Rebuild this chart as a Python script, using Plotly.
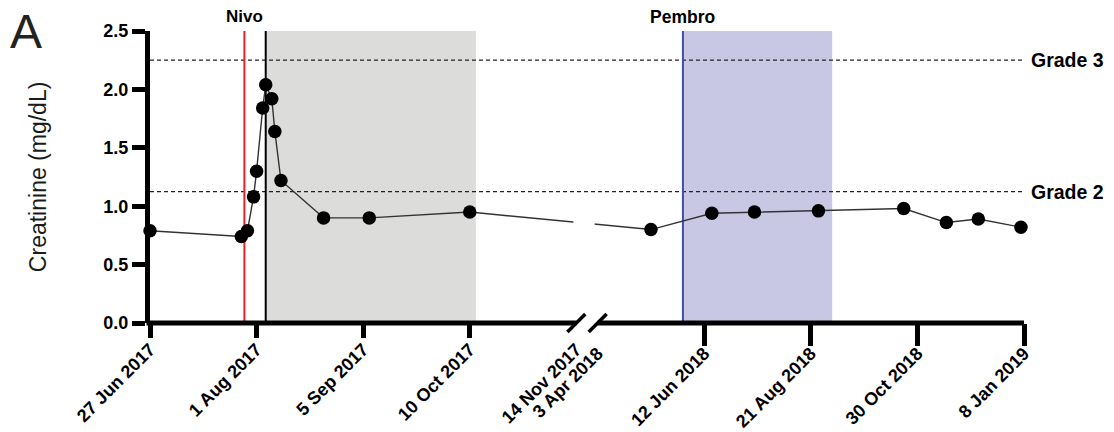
import plotly.graph_objects as go
from datetime import date

# ---------------- data ----------------
dates_2017 = ["2017-06-27", "2017-07-27", "2017-07-29", "2017-07-31", "2017-08-01",
              "2017-08-03", "2017-08-04", "2017-08-06", "2017-08-07", "2017-08-09",
              "2017-08-23", "2017-09-07", "2017-10-10"]
creat_2017 = [0.79, 0.74, 0.79, 1.08, 1.30, 1.84, 2.04, 1.92, 1.64, 1.22, 0.90, 0.90, 0.95]

dates_2018 = ["2018-05-08", "2018-06-17", "2018-07-15", "2018-08-26", "2018-10-21",
              "2018-11-18", "2018-12-09", "2019-01-06"]
creat_2018 = [0.80, 0.94, 0.95, 0.96, 0.98, 0.86, 0.89, 0.82]

tick_dates_1 = ["2017-06-27", "2017-08-01", "2017-09-05", "2017-10-10"]
tick_labels_1 = ["27 Jun 2017", "1 Aug 2017", "5 Sep 2017", "10 Oct 2017"]
tick_dates_2 = ["2018-06-12", "2018-08-21", "2018-10-30", "2019-01-08"]
tick_labels_2 = ["12 Jun 2018", "21 Aug 2018", "30 Oct 2018", "8 Jan 2019"]
break_dates = ["2017-11-14", "2018-04-03"]
break_labels = ["14 Nov 2017", "3 Apr 2018"]

nivo_start = "2017-07-28"
nivo_stop = "2017-08-04"
nivo_band_end = "2017-10-12"
pembro_start = "2018-05-29"
pembro_band_end = "2018-09-04"

grade_levels = [2.25, 1.125]
grade_labels = ["Grade 3", "Grade 2"]

# ---------------- broken-axis scale ----------------
SEG1 = (date(2017, 6, 27), date(2017, 11, 14))
SEG2 = (date(2018, 4, 3), date(2019, 1, 8))
GAP = 0.05
XMAX = 2 + GAP


def pos(s):
    d = date.fromisoformat(s)
    if d <= SEG1[1]:
        return (d - SEG1[0]).days / (SEG1[1] - SEG1[0]).days
    return 1 + GAP + (d - SEG2[0]).days / (SEG2[1] - SEG2[0]).days


FONT = "Liberation Sans, Arial, sans-serif"
all_dates = dates_2017 + dates_2018
all_vals = creat_2017 + creat_2018

fig = go.Figure()
fig.add_trace(go.Scatter(
    x=[pos(d) for d in all_dates], y=all_vals, mode="lines+markers",
    line=dict(color="#333333", width=1.4),
    marker=dict(color="black", size=13.5),
    showlegend=False, cliponaxis=False, hoverinfo="skip"))
for ax in ("x2", "x3", "x4"):
    fig.add_trace(go.Scatter(x=[], y=[], xaxis=ax, showlegend=False))

shapes = []
shapes.append(dict(type="rect", xref="x", yref="y", x0=pos(nivo_stop), x1=pos(nivo_band_end),
                   y0=0, y1=2.5, fillcolor="#dcdcda", line=dict(width=0), layer="below"))
shapes.append(dict(type="rect", xref="x", yref="y", x0=pos(pembro_start), x1=pos(pembro_band_end),
                   y0=0, y1=2.5, fillcolor="#c8c8e4", line=dict(width=0), layer="below"))
for g in grade_levels:
    shapes.append(dict(type="line", xref="x", yref="y", x0=0, x1=XMAX, y0=g, y1=g,
                       line=dict(color="#222222", width=1.2, dash="4px,3px"), layer="below"))
shapes.append(dict(type="line", xref="x", yref="y", x0=pos(nivo_start), x1=pos(nivo_start),
                   y0=0, y1=2.5, line=dict(color="#e8202a", width=2), layer="below"))
shapes.append(dict(type="line", xref="x", yref="y", x0=pos(nivo_stop), x1=pos(nivo_stop),
                   y0=0, y1=2.5, line=dict(color="black", width=2), layer="below"))
shapes.append(dict(type="line", xref="x", yref="y", x0=pos(pembro_start), x1=pos(pembro_start),
                   y0=0, y1=2.5, line=dict(color="#4050a8", width=2), layer="below"))
# gap in data line at the axis break
shapes.append(dict(type="rect", xref="x", yref="y", x0=1 - 0.007, x1=1 + GAP - 0.007,
                   y0=0.4, y1=1.05, fillcolor="white", line=dict(width=0), layer="above"))
# broken x-axis line (paper coordinates derived from the axis range)
shapes.append(dict(type="line", xref="paper", yref="paper", x0=-0.004, x1=1 / XMAX, y0=0, y1=0,
                   line=dict(color="black", width=5), layer="above"))
shapes.append(dict(type="line", xref="paper", yref="paper", x0=(1 + GAP) / XMAX, x1=1.0, y0=0, y1=0,
                   line=dict(color="black", width=5), layer="above"))
for c in (1, 1 + GAP):
    shapes.append(dict(type="line", xref="x", yref="paper", x0=c - 0.021, x1=c + 0.021,
                       y0=-0.031, y1=0.031, line=dict(color="black", width=3.5), layer="above"))

annotations = [
    dict(text="A", xref="paper", yref="paper", x=-0.1417, y=0.9966, showarrow=False,
         xanchor="center", yanchor="middle", font=dict(family=FONT, size=48, color="#222")),
    dict(text="Creatinine (mg/dL)", xref="paper", yref="paper", x=-0.128, y=0.5,
         showarrow=False, textangle=-90, xanchor="center", yanchor="middle",
         font=dict(family=FONT, size=23, color="#1a1a1a")),
    dict(text="Nivo", xref="x", yref="paper", x=pos(nivo_start), y=1.048, showarrow=False,
         xanchor="center", yanchor="middle", font=dict(family=FONT, size=17, color="black", weight="bold")),
    dict(text="Pembro", xref="x", yref="paper", x=pos(pembro_start), y=1.048, showarrow=False,
         xanchor="center", yanchor="middle", font=dict(family=FONT, size=17.5, color="black", weight="bold")),
]
for g, lab in zip(grade_levels, grade_labels):
    annotations.append(dict(text=lab, xref="paper", yref="y", x=1.006, y=g, showarrow=False,
                            xanchor="left", yanchor="middle",
                            font=dict(family=FONT, size=19.5, color="black", weight="bold")))

tickfont = dict(family=FONT, size=18, color="black", weight="bold")


def xax(vals, labels, ticklen, show_ticks, overlay=True):
    d = dict(range=[0, XMAX], tickmode="array", automargin=False,
             tickvals=[pos(v) for v in vals],
             ticks="outside", ticklen=ticklen, tickwidth=4.5,
             tickcolor="black" if show_ticks else "rgba(0,0,0,0)",
             showline=False, showgrid=False, zeroline=False)
    if labels is None:
        d.update(showticklabels=False)
    else:
        d.update(ticktext=labels, tickangle=-45, tickfont=tickfont)
    if overlay:
        d.update(overlaying="x", side="bottom")
    return d


fig.update_layout(
    template="none",
    width=1114, height=432,
    margin=dict(l=150, r=90, t=31, b=109, autoexpand=False),
    paper_bgcolor="white", plot_bgcolor="white",
    shapes=shapes, annotations=annotations, hovermode=False,
    # visible tick marks
    xaxis=xax(tick_dates_1, None, 14, True, overlay=False),
    xaxis2=xax(tick_dates_2, None, 22, True),
    # tick labels (transparent ticks set the label offset)
    xaxis3=xax(tick_dates_1 + break_dates[:1], tick_labels_1 + break_labels[:1], 8, False),
    xaxis4=xax(break_dates[1:] + tick_dates_2, break_labels[1:] + tick_labels_2, 12, False),
    yaxis=dict(range=[0, 2.5], tickmode="array", tickvals=[0, 0.5, 1.0, 1.5, 2.0, 2.5],
               automargin=False,
               tickformat=".1f", ticks="outside", ticklen=13, tickwidth=5, tickcolor="black",
               showline=True, linewidth=5, linecolor="black",
               showgrid=False, zeroline=False, tickfont=tickfont),
)

fig.write_html("out.html", config={"displayModeBar": False},
               post_script="document.body.style.margin='0px';")
